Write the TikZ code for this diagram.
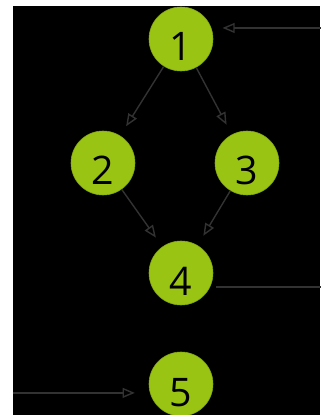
\documentclass[tikz,border=0pt]{standalone}
\usepackage{fontspec}
\setmainfont{Open Sans}
\usepackage{tikz}
\usetikzlibrary{arrows,positioning}
\definecolor{nodegreen}{RGB}{154,196,20}
\definecolor{linkgray}{RGB}{50,50,50}

\begin{document}
\begin{tikzpicture}[>=open triangle 45,node distance=3.1cm,auto,main node/.style={circle,fill=nodegreen,draw=nodegreen!85!black,minimum size=1.6cm,inner sep=0pt,font=\fontsize{28}{28}\selectfont,text height=1.1cm,text depth=0pt},link/.style={->,draw=linkgray,line width=1pt,shorten >=0.28cm}]

\useasboundingbox (0,0) rectangle (8,-10.375);
\fill[white] (0,0) rectangle (8,-10.375);
\fill[black] (0.325,-0.15) rectangle (8,-10.375);

\node[main node] (1) at (4.525,-0.975) {1};
\node[main node] (2) [below of=1,xshift=-1.95cm] {2};
\node[main node] (3) [below of=1,xshift=1.65cm] {3};
\node[main node] (4) [below of=1,node distance=5.85cm] {4};
\node[main node] (5) [below of=4,node distance=2.775cm] {5};

%diagonal lines
\path[link] 
(1) edge node {} (2)
(1) edge node {} (3)
(2) edge node {} (4)
(3) edge node {} (4);

%lines in and out
\coordinate[right=3cm of 1.20] (in1);
\draw[link] (in1) -- (1.20);
\coordinate[right=3cm of 4.334] (out4);
\draw[link,-,shorten >=0pt,shorten <=0.15cm] (4.334) -- (out4);
\coordinate[left=3.43cm of 5.196] (in5);
\draw[link,shorten >=0.38cm] (in5) -- (5.196);

\end{tikzpicture}
\end{document}
